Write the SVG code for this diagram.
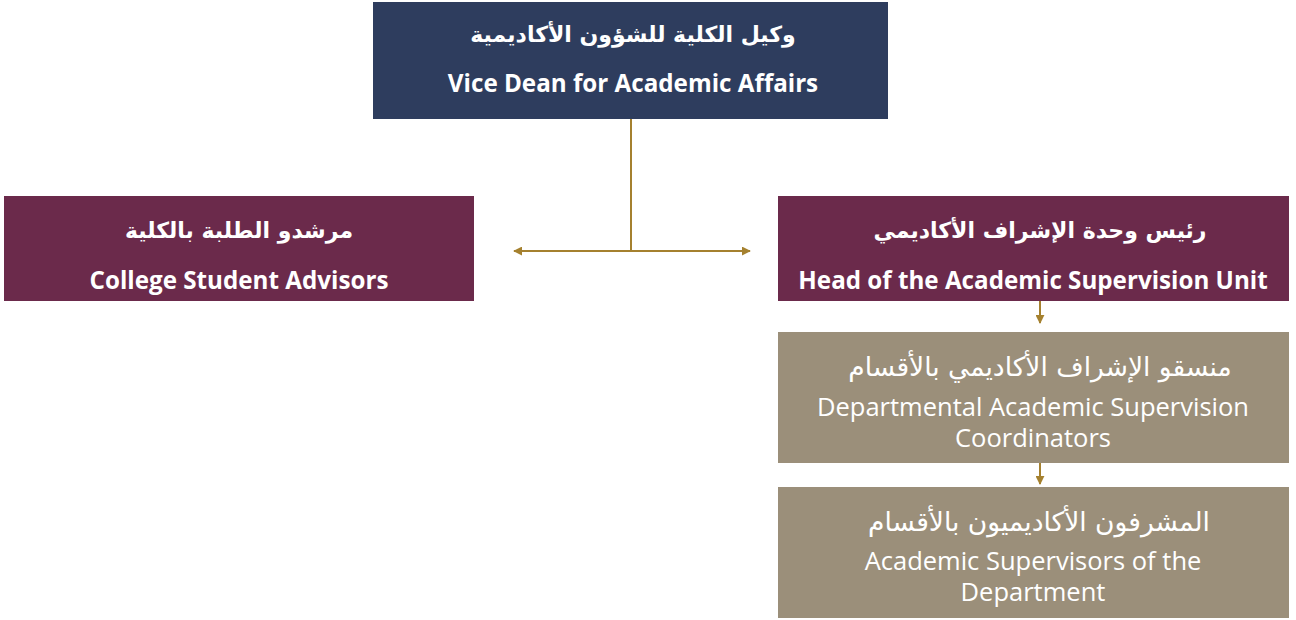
<svg xmlns="http://www.w3.org/2000/svg" width="1296" height="620" viewBox="0 0 1296 620">
<defs>
<style>
.t{font-family:"Open Sans","Noto Sans","DejaVu Sans",sans-serif;fill:#ffffff;text-anchor:middle;dominant-baseline:central}
.b{font-weight:bold;font-size:24.2px}
.r{font-weight:normal;font-size:25.5px}
.ar{font-family:"DejaVu Sans","Noto Sans",sans-serif;font-size:22px}
.ar2{font-family:"DejaVu Sans","Noto Sans",sans-serif;font-size:26.5px}
.c{stroke:#a5812f;stroke-width:2;fill:none}
</style>
<marker id="ah" viewBox="0 0 10 10" refX="9" refY="5" markerWidth="9" markerHeight="9" orient="auto-start-reverse" markerUnits="userSpaceOnUse">
<path d="M0,0 L10,5 L0,10 z" fill="#a5812f"/>
</marker>
</defs>
<rect width="1296" height="620" fill="#ffffff"/>
<g id="connectors">
<line class="c" x1="631" y1="119" x2="631" y2="251"/>
<line class="c" x1="631" y1="251" x2="750" y2="251" marker-end="url(#ah)"/>
<line class="c" x1="631" y1="251" x2="514" y2="251" marker-end="url(#ah)"/>
<line class="c" x1="1040" y1="301" x2="1040" y2="323" marker-end="url(#ah)"/>
<line class="c" x1="1040" y1="463" x2="1040" y2="484" marker-end="url(#ah)"/>
</g>
<g id="vice-dean">
<rect x="373" y="2" width="515" height="117" fill="#2e3d5e"/>
<text class="t b ar" x="633" y="34" direction="rtl">وكيل الكلية للشؤون الأكاديمية</text>
<text class="t b" x="633" y="82">Vice Dean for Academic Affairs</text>
</g>
<g id="student-advisors">
<rect x="4" y="196" width="470" height="105" fill="#6b2a4b"/>
<text class="t b ar" x="239" y="230" direction="rtl">مرشدو الطلبة بالكلية</text>
<text class="t b" x="239" y="279">College Student Advisors</text>
</g>
<g id="head-unit">
<rect x="778" y="196" width="511" height="105" fill="#6b2a4b"/>
<text class="t b ar" x="1040" y="230" direction="rtl">رئيس وحدة الإشراف الأكاديمي</text>
<text class="t b" x="1033" y="279">Head of the Academic Supervision Unit</text>
</g>
<g id="coordinators">
<rect x="778" y="332" width="511" height="131" fill="#9b8f7a"/>
<text class="t r ar2" x="1040" y="366" direction="rtl">منسقو الإشراف الأكاديمي بالأقسام</text>
<text class="t r"><tspan x="1033" y="406">Departmental Academic Supervision</tspan><tspan x="1033" y="437">Coordinators</tspan></text>
</g>
<g id="supervisors">
<rect x="778" y="487" width="511" height="131" fill="#9b8f7a"/>
<text class="t r ar2" x="1039" y="521" direction="rtl">المشرفون الأكاديميون بالأقسام</text>
<text class="t r"><tspan x="1033" y="560">Academic Supervisors of the</tspan><tspan x="1033" y="591">Department</tspan></text>
</g>
</svg>
